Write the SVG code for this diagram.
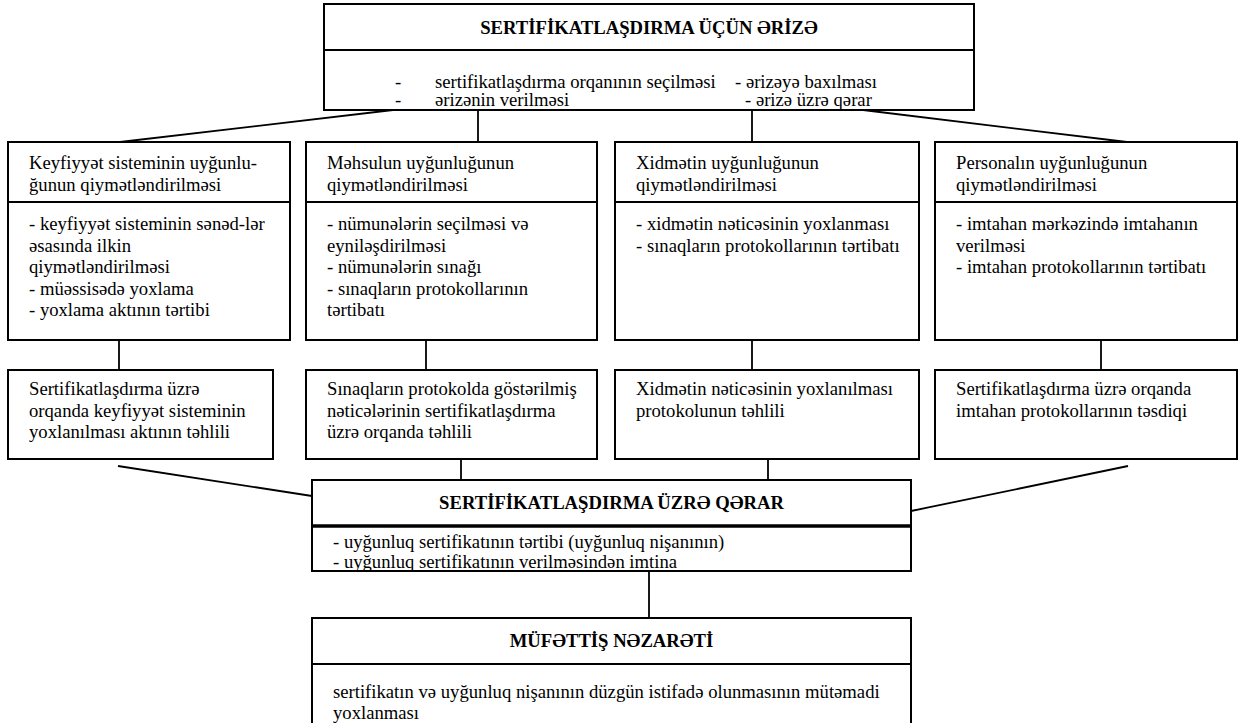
<svg xmlns="http://www.w3.org/2000/svg" width="1239" height="723" viewBox="0 0 1239 723">
  <style>
    .box { fill: #fff; stroke: #000; stroke-width: 2; }
    .sep { stroke: #000; stroke-width: 2; }
    .sep-bold { stroke: #000; stroke-width: 3.5; }
    .t { font-family: "Liberation Serif", "Times New Roman", "DejaVu Serif", serif; font-size: 18.67px; fill: #000; }
    .h { font-weight: bold; text-anchor: middle; }
    #connectors line { stroke: #000; stroke-width: 1.8; }
  </style>
  <defs>
    <clipPath id="clip-top"><rect x="325" y="51" width="648" height="58"/></clipPath>
    <clipPath id="clip-decision"><rect x="313" y="528" width="597" height="42"/></clipPath>
  </defs>

  <rect width="1239" height="723" fill="#fff"/>

  <g id="connectors">
    <!-- application to assessment branches -->
    <line x1="393" y1="110" x2="120" y2="142"/>
    <line x1="478" y1="110" x2="478" y2="142"/>
    <line x1="752" y1="110" x2="752" y2="142"/>
    <line x1="863" y1="110" x2="1127" y2="142"/>
    <!-- assessment to analysis -->
    <line x1="119" y1="340" x2="119" y2="370"/>
    <line x1="426" y1="340" x2="426" y2="370"/>
    <line x1="752" y1="340" x2="752" y2="370"/>
    <line x1="1101" y1="340" x2="1101" y2="370"/>
    <!-- analysis to decision -->
    <line x1="118" y1="466" x2="312" y2="496"/>
    <line x1="461" y1="459" x2="461" y2="480"/>
    <line x1="768" y1="459" x2="768" y2="480"/>
    <line x1="1128" y1="466" x2="911" y2="511"/>
    <!-- decision to inspection -->
    <line x1="649" y1="571" x2="649" y2="618"/>
  </g>

  <g id="application">
    <rect class="box" x="324" y="4" width="650" height="106"/>
    <line class="sep" x1="324" y1="50" x2="974" y2="50"/>
    <text class="t h" x="649" y="34">SERTİFİKATLAŞDIRMA ÜÇÜN ƏRİZƏ</text>
    <g clip-path="url(#clip-top)">
      <text class="t" x="395" y="88">-</text>
      <text class="t" x="435" y="88">sertifikatlaşdırma orqanının seçilməsi</text>
      <text class="t" x="735" y="88">- ərizəyə baxılması</text>
      <text class="t" x="395" y="106">-</text>
      <text class="t" x="435" y="106">ərizənin verilməsi</text>
      <text class="t" x="745" y="106">- ərizə üzrə qərar</text>
    </g>
  </g>

  <g id="quality-system">
    <rect class="box" x="8" y="142" width="282" height="198"/>
    <line class="sep" x1="8" y1="202" x2="290" y2="202"/>
    <text class="t" x="29" y="169">Keyfiyyət sisteminin uyğunlu-</text>
    <text class="t" x="29" y="191">ğunun qiymətləndirilməsi</text>
    <text class="t" x="29" y="230">- keyfiyyət sisteminin sənəd-lər</text>
    <text class="t" x="29" y="251.5">əsasında ilkin</text>
    <text class="t" x="29" y="273">qiymətləndirilməsi</text>
    <text class="t" x="29" y="294.5">- müəssisədə yoxlama</text>
    <text class="t" x="29" y="316">- yoxlama aktının tərtibi</text>
  </g>

  <g id="product">
    <rect class="box" x="306" y="142" width="291" height="198"/>
    <line class="sep" x1="306" y1="202" x2="597" y2="202"/>
    <text class="t" x="327" y="169">Məhsulun uyğunluğunun</text>
    <text class="t" x="327" y="191">qiymətləndirilməsi</text>
    <text class="t" x="327" y="230">- nümunələrin seçilməsi və</text>
    <text class="t" x="327" y="251.5">eyniləşdirilməsi</text>
    <text class="t" x="327" y="273">- nümunələrin sınağı</text>
    <text class="t" x="327" y="294.5">- sınaqların protokollarının</text>
    <text class="t" x="327" y="316">tərtibatı</text>
  </g>

  <g id="service">
    <rect class="box" x="615" y="142" width="304" height="198"/>
    <line class="sep" x1="615" y1="202" x2="919" y2="202"/>
    <text class="t" x="636" y="169">Xidmətin uyğunluğunun</text>
    <text class="t" x="636" y="191">qiymətləndirilməsi</text>
    <text class="t" x="636" y="230">- xidmətin nəticəsinin yoxlanması</text>
    <text class="t" x="636" y="251.5">- sınaqların protokollarının tərtibatı</text>
  </g>

  <g id="personnel">
    <rect class="box" x="935" y="142" width="302" height="198"/>
    <line class="sep" x1="935" y1="202" x2="1237" y2="202"/>
    <text class="t" x="956" y="169">Personalın uyğunluğunun</text>
    <text class="t" x="956" y="191">qiymətləndirilməsi</text>
    <text class="t" x="956" y="230">- imtahan mərkəzində imtahanın</text>
    <text class="t" x="956" y="251.5">verilməsi</text>
    <text class="t" x="956" y="273">- imtahan protokollarının tərtibatı</text>
  </g>

  <g id="quality-analysis">
    <rect class="box" x="8" y="370" width="265" height="89"/>
    <text class="t" x="29" y="395">Sertifikatlaşdırma üzrə</text>
    <text class="t" x="29" y="416.5">orqanda keyfiyyət sisteminin</text>
    <text class="t" x="29" y="438">yoxlanılması aktının təhlili</text>
  </g>

  <g id="product-analysis">
    <rect class="box" x="306" y="370" width="291" height="89"/>
    <text class="t" x="327" y="395">Sınaqların protokolda göstərilmiş</text>
    <text class="t" x="327" y="416.5">nəticələrinin sertifikatlaşdırma</text>
    <text class="t" x="327" y="438">üzrə orqanda təhlili</text>
  </g>

  <g id="service-analysis">
    <rect class="box" x="615" y="370" width="304" height="89"/>
    <text class="t" x="636" y="395">Xidmətin nəticəsinin yoxlanılması</text>
    <text class="t" x="636" y="416.5">protokolunun təhlili</text>
  </g>

  <g id="personnel-analysis">
    <rect class="box" x="935" y="370" width="302" height="89"/>
    <text class="t" x="956" y="395">Sertifikatlaşdırma üzrə orqanda</text>
    <text class="t" x="956" y="416.5">imtahan protokollarının təsdiqi</text>
  </g>

  <g id="decision">
    <rect class="box" x="312" y="480" width="599" height="91"/>
    <line class="sep-bold" x1="312" y1="526" x2="911" y2="526"/>
    <text class="t h" x="611.5" y="509">SERTİFİKATLAŞDIRMA ÜZRƏ QƏRAR</text>
    <g clip-path="url(#clip-decision)">
      <text class="t" x="333" y="548">- uyğunluq sertifikatının tərtibi (uyğunluq nişanının)</text>
      <text class="t" x="333" y="568">- uyğunluq sertifikatının verilməsindən imtina</text>
    </g>
  </g>

  <g id="inspection">
    <rect class="box" x="312" y="618" width="599" height="115"/>
    <line class="sep" x1="312" y1="664" x2="911" y2="664"/>
    <text class="t h" x="611.5" y="647">MÜFƏTTİŞ NƏZARƏTİ</text>
    <text class="t" x="333" y="698">sertifikatın və uyğunluq nişanının düzgün istifadə olunmasının mütəmadi</text>
    <text class="t" x="333" y="719">yoxlanması</text>
  </g>
</svg>
